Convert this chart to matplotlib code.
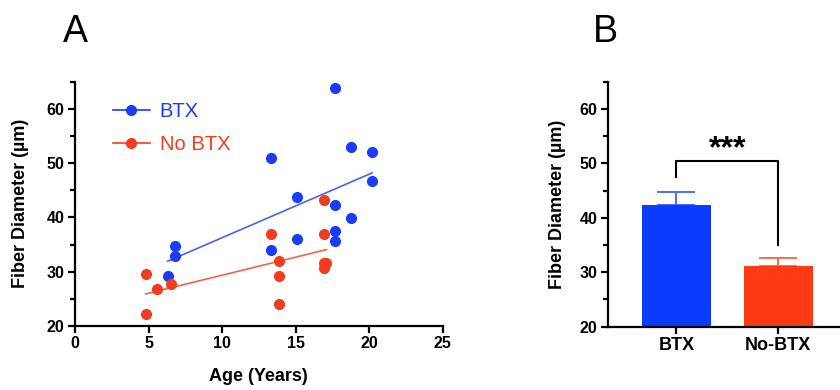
import matplotlib.pyplot as plt
import numpy as np
from matplotlib.ticker import MultipleLocator

plt.rcParams["font.family"] = ["Liberation Sans", "DejaVu Sans"]

# Panel A: age vs fiber diameter
btx_age = [17.7, 18.8, 20.2, 20.2, 13.3, 15.1, 17.7, 18.8, 17.7, 17.7, 15.1, 13.3, 6.8, 6.8, 6.3]
btx_diam = [63.9, 52.9, 52.0, 46.7, 50.9, 43.8, 42.2, 39.9, 37.5, 35.6, 36.1, 34.0, 34.7, 32.9, 29.2]
nobtx_age = [4.8, 4.8, 5.6, 6.5, 13.3, 13.9, 13.9, 13.9, 16.9, 16.9, 16.9, 17.1, 16.9]
nobtx_diam = [29.5, 22.3, 26.9, 27.7, 36.9, 31.9, 29.3, 24.0, 43.2, 37.0, 31.6, 31.6, 30.6]

# Panel B: group means with SEM
groups = ["BTX", "No-BTX"]
group_means = [42.3, 31.1]
group_sem = [2.5, 1.6]

BLUE = "#1a3cf5"
RED = "#f23c1e"
BAR_COLORS = ["#0a3cff", "#ff3a14"]
ERR_COLORS = ["#4d6bff", "#ff6a50"]

fig = plt.figure(figsize=(8.4, 3.9), dpi=100)
ax_a = fig.add_axes([0.0893, 0.1641, 0.4377, 0.6264])
ax_b = fig.add_axes([0.7238, 0.1623, 0.30, 0.628])

for ax in (ax_a, ax_b):
    ax.spines["top"].set_visible(False)
    ax.spines["right"].set_visible(False)
    ax.spines["left"].set_linewidth(1.6)
    ax.spines["bottom"].set_linewidth(1.6)
    ax.tick_params(which="major", length=5, width=1.6, labelsize=11.5, direction="out", pad=2.5)
    ax.tick_params(which="minor", length=3.5, width=1.6)

# scatter + linear fits
for xs, ys, col, name in [(btx_age, btx_diam, BLUE, "BTX"), (nobtx_age, nobtx_diam, RED, "No BTX")]:
    xs = np.array(xs)
    ys = np.array(ys)
    ax_a.plot(xs, ys, "o", color=col, markersize=7, zorder=3)
    k, b = np.polyfit(xs, ys, 1)
    xl = np.array([xs.min(), xs.max()])
    ax_a.plot(xl, k * xl + b, "-", color=col, lw=1.2, alpha=0.8, zorder=2)
    ax_a.plot([], [], "-o", color=col, markersize=7, lw=1.2, label=name)

leg = ax_a.legend(loc="upper left", bbox_to_anchor=(0.055, 0.99), frameon=False,
                  fontsize=14.5, handlelength=1.8, labelspacing=0.7, handletextpad=0.5)
for txt, col in zip(leg.get_texts(), [BLUE, RED]):
    txt.set_color(col)

ax_a.set_xlim(0, 25)
ax_a.set_ylim(20, 65)
ax_a.yaxis.set_minor_locator(MultipleLocator(5))
ax_a.set_xticks([0, 5, 10, 15, 20, 25])
ax_a.set_xticklabels(["0", "5", "10", "15", "20", "25"], fontweight="bold")
ax_a.set_yticks([20, 30, 40, 50, 60])
ax_a.set_yticklabels(["20", "30", "40", "50", "60"], fontweight="bold")
ax_a.set_xlabel("Age (Years)", fontsize=13, fontweight="bold", labelpad=12)
ax_a.set_ylabel("Fiber Diameter (µm)", fontsize=13, fontweight="bold", labelpad=13)

# bars
xpos = np.arange(len(groups))
ax_b.bar(xpos, group_means, width=0.67, color=BAR_COLORS, zorder=2)
for x, m, s, ec in zip(xpos, group_means, group_sem, ERR_COLORS):
    ax_b.errorbar([x], [m], yerr=[[0], [s]], fmt="none", ecolor=ec,
                  elinewidth=1.4, capsize=13.5, capthick=1.4, zorder=1)
ax_b.set_xlim(-0.67, 1.8)
ax_b.set_ylim(20, 65)
ax_b.set_xticks(xpos)
ax_b.set_xticklabels(groups, fontweight="bold", fontsize=13)
ax_b.set_yticks([20, 30, 40, 50, 60])
ax_b.set_yticklabels(["20", "30", "40", "50", "60"], fontweight="bold")
ax_b.yaxis.set_minor_locator(MultipleLocator(5))
ax_b.set_ylabel("Fiber Diameter (µm)", fontsize=13, fontweight="bold", labelpad=10)

# significance bracket
ax_b.plot([0, 0, 1, 1], [47.5, 50.4, 50.4, 35.1], color="black", lw=1.5)
ax_b.text(0.5, 52.6, "***", ha="center", va="center", fontsize=23, fontweight="bold")

fig.text(0.075, 0.918, "A", fontsize=27, va="center")
fig.text(0.706, 0.918, "B", fontsize=27, va="center")

fig.savefig("out.png", dpi=100)
